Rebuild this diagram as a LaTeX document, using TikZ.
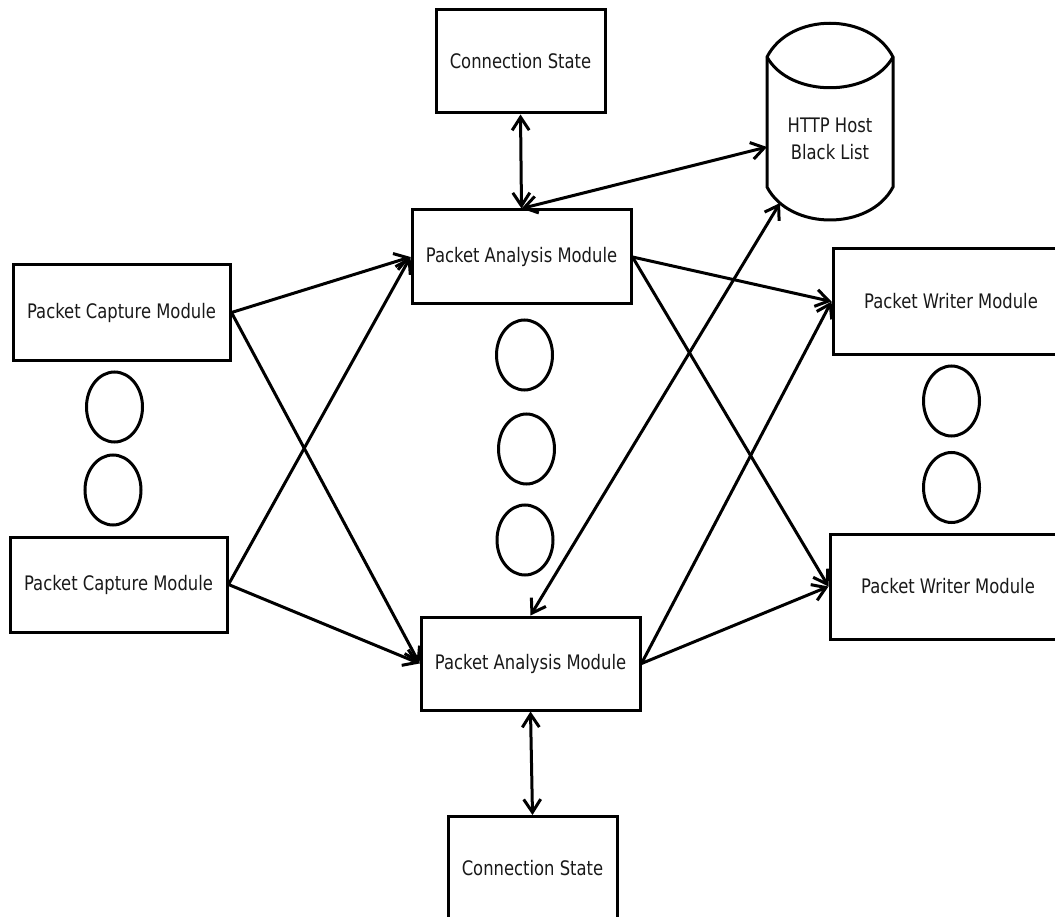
\documentclass[tikz,border=0pt]{standalone}
\usepackage{fontspec}
\setmainfont{DejaVu Sans}[FakeStretch=0.82]
\usetikzlibrary{arrows.meta,shapes.geometric}

\begin{document}
\begin{tikzpicture}[x=1pt,y=-1pt,
  line width=3pt,
  box/.style={draw, rectangle, inner sep=0pt, text=black!90,
    font=\fontsize{20}{27}\selectfont},
  dot/.style={draw, ellipse, inner sep=0pt, minimum width=56pt, minimum height=70pt},
  flow/.style={-{Straight Barb[length=13pt,width=17pt]}},
  both/.style={{Straight Barb[length=13pt,width=17pt]}-{Straight Barb[length=13pt,width=17pt]}},
]
\useasboundingbox (0,0) rectangle (1055,917);
\clip (0,0) rectangle (1055,917);

% module boxes
\node[box, minimum width=169pt, minimum height=103pt] (cs1) at (520.5,61.5) {Connection State};
\node[box, minimum width=219pt, minimum height=94pt]  (pa1) at (521.5,257) {Packet Analysis Module};
\node[box, minimum width=217pt, minimum height=95pt]  (pc1) at (121.5,312.5) {Packet Capture Module};
\node[box, minimum width=217pt, minimum height=95pt]  (pc2) at (118.5,584.5) {Packet Capture Module};
\node[box, minimum width=219pt, minimum height=93pt]  (pa2) at (530.5,663.5) {Packet Analysis Module};
\node[box, minimum width=169pt, minimum height=103pt] (cs2) at (532.5,868) {Connection State};
\node[box, minimum width=236pt, minimum height=105pt] (pw1) at (951,301.5) {Packet Writer Module};
\node[box, minimum width=236pt, minimum height=105pt] (pw2) at (948,586.5) {Packet Writer Module};

% black list store (cylinder)
\draw (767,57) .. controls (790,12) and (870,12) .. (893,57)
      -- (893,187) .. controls (870,231) and (790,231) .. (767,187) -- cycle;
\draw (767,57) .. controls (790,98) and (870,98) .. (893,57);
\node[align=center, inner sep=0pt, text=black!90, font=\fontsize{20}{27}\selectfont]
  (bl) at (830,139) {HTTP Host\\Black List};
\coordinate (blside) at (767,147);
\coordinate (blbase) at (780,203);

% ellipsis markers between repeated modules
\node[dot] (d1) at (114.5,407) {};
\node[dot] (d2) at (113,490) {};
\node[dot] (d3) at (524.5,355) {};
\node[dot] (d4) at (526.5,449) {};
\node[dot] (d5) at (525,540) {};
\node[dot] (d6) at (951.5,401) {};
\node[dot] (d7) at (951.5,487.5) {};

% connectors
\draw[both] (cs1.south) -- (pa1.north);
\draw[both] (pa1.north) -- (blside);
\draw[both] (pa2.north) -- (blbase);
\draw[both] (pa2.south) -- (cs2.north);

\draw[flow] (pc1.east) -- (pa1.west);
\draw[flow] (pc1.east) -- (pa2.west);
\draw[flow] (pc2.east) -- (pa1.west);
\draw[flow] (pc2.east) -- (pa2.west);

\draw[flow] (pa1.east) -- (pw1.west);
\draw[flow] (pa1.east) -- (pw2.west);
\draw[flow] (pa2.east) -- (pw1.west);
\draw[flow] (pa2.east) -- (pw2.west);
\end{tikzpicture}
\end{document}
